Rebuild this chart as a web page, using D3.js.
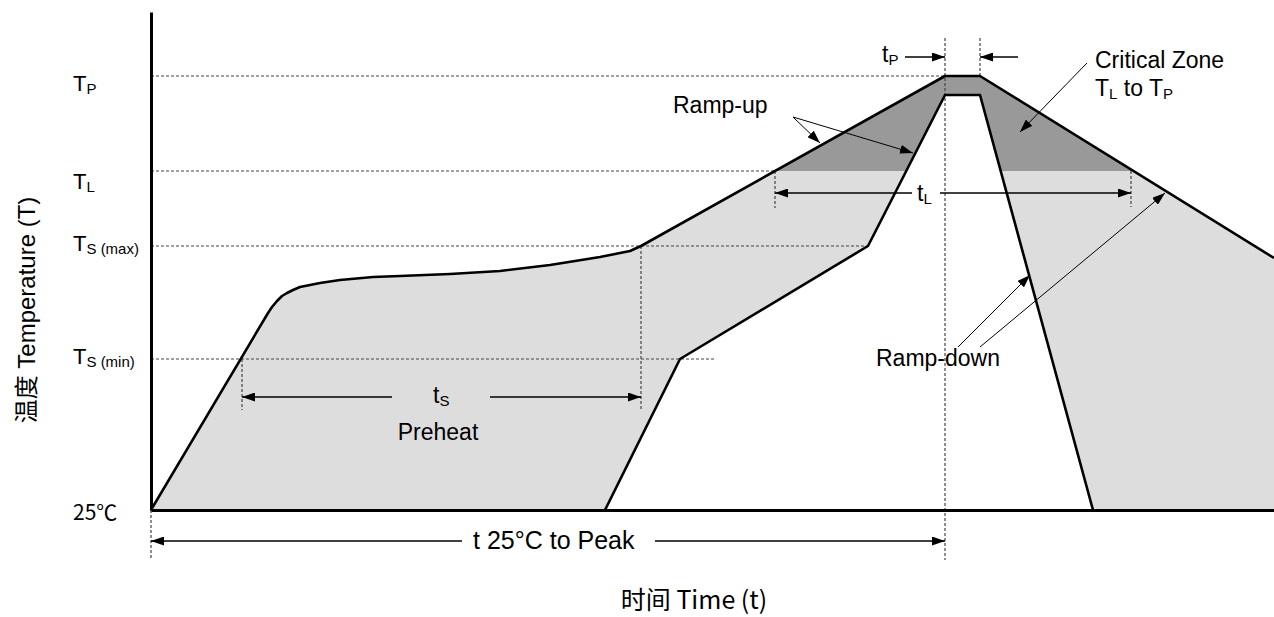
<!DOCTYPE html>
<html><head><meta charset="utf-8">
<script src="https://cdn.jsdelivr.net/npm/d3@7"></script>
<style>
html,body{margin:0;padding:0;background:#fff;}
svg{display:block;}
</style></head>
<body>
<svg id="c" width="1274" height="617"></svg>
<script>
// ---- data (diagram units: time from origin, temperature above 25°C) ----
const levelMain   = ["25℃", "T", "T", "T", "T"];
const levelSub    = ["", "S (min)", "S (max)", "L", "P"];
const levelValues = [0, 151, 264, 339, 434];

// outer (upper) reflow profile
const outerTime = [0, 117, 121, 126, 131, 136, 142, 149, 159, 169, 189, 222, 249, 299, 349, 399, 449, 479, 490, 794, 829, 1123];
const outerTemp = [0, 197, 203, 209, 214, 217, 220, 223, 225, 227, 230, 233, 234, 236, 239, 245, 253, 259, 264, 434, 434, 252];
// inner (lower) reflow profile
const innerTime = [454, 529, 717, 794, 829, 942];
const innerTemp = [0, 151, 264, 415, 415, 0];

const xTitle = "时间 Time (t)";
const yTitle = "温度 Temperature (T)";

// ---- scales ----
const svg = d3.select("#c");
const x = d3.scaleLinear().domain([0, 1123]).range([151, 1274]);
const y = d3.scaleLinear().domain([0, 498]).range([510, 12]);
const lvl = name => levelValues[levelSub.indexOf(name)];

const outer = outerTime.map((t, i) => [t, outerTemp[i]]);
const inner = innerTime.map((t, i) => [t, innerTemp[i]]);
const line = d3.line().x(d => x(d[0])).y(d => y(d[1]));

// markers
const defs = svg.append("defs");
function marker(id, w, h) {
  defs.append("marker").attr("id", id).attr("viewBox", `0 0 ${w} ${h}`)
    .attr("refX", w).attr("refY", h / 2).attr("markerWidth", w).attr("markerHeight", h)
    .attr("markerUnits", "userSpaceOnUse").attr("orient", "auto")
    .append("path").attr("d", `M0,0L${w},${h / 2}L0,${h}Z`).attr("fill", "#000");
}
marker("dim", 13, 9);
marker("ptr", 13, 9);

// filled region
const polygon = outer.concat([[1123, 0]], inner.slice().reverse());
defs.append("clipPath").attr("id", "crit").append("rect")
  .attr("x", 0).attr("y", 0).attr("width", 1274).attr("height", y(lvl("L")));
svg.append("path").attr("d", line(polygon) + "Z").attr("fill", "#dddddd");
svg.append("path").attr("d", line(polygon) + "Z").attr("fill", "#999999").attr("clip-path", "url(#crit)");

// dotted reference lines
const dot = g => g.attr("stroke", "#444").attr("stroke-width", 1.2).attr("stroke-dasharray", "3,2").attr("fill", "none");
const seg = (a, b) => svg.append("path").attr("d", line([a, b])).call(dot);
seg([0, lvl("P")], [794, lvl("P")]);
seg([0, lvl("L")], [624, lvl("L")]);
seg([0, lvl("S (max)")], [717, lvl("S (max)")]);
seg([0, lvl("S (min)")], [565, lvl("S (min)")]);
seg([91, lvl("S (min)")], [91, 100]);
seg([490, lvl("S (max)")], [490, 100]);
seg([624, lvl("L")], [624, 302]);
seg([980, lvl("L")], [980, 303]);
seg([794, 472], [794, -50]);
seg([829, 472], [829, lvl("P")]);
seg([0, 0], [0, -50]);

// profile lines
svg.append("path").attr("d", line(outer)).attr("fill", "none").attr("stroke", "#000").attr("stroke-width", 2.6).attr("stroke-linejoin", "round");
svg.append("path").attr("d", line(inner)).attr("fill", "none").attr("stroke", "#000").attr("stroke-width", 2.6).attr("stroke-linejoin", "round");

// axes
const yAxis = svg.append("g").attr("transform", `translate(${x(0)},0)`)
  .call(d3.axisLeft(y).tickValues(levelValues).tickSize(0).tickSizeOuter(0).tickFormat(""));
yAxis.select(".domain").attr("stroke", "#000").attr("stroke-width", 3);
const tickDy = [9, 4, 4, 17, 14];
yAxis.selectAll(".tick").each(function (d, i) {
  const t = d3.select(this).append("text").attr("x", -78).attr("dy", tickDy[i])
    .attr("fill", "#000").attr("text-anchor", "start").attr("font-size", i === 0 ? 21 : 22)
    .attr("font-family", i === 0 ? "Noto Sans CJK SC" : "Liberation Sans, Arial, sans-serif");
  t.append("tspan").text(levelMain[i]);
  if (levelSub[i]) t.append("tspan").attr("font-size", 15).attr("dy", 3).text(levelSub[i]);
});
const xAxis = svg.append("g").attr("transform", `translate(0,${y(0)})`)
  .call(d3.axisBottom(x).tickValues([]).tickSizeOuter(0));
xAxis.select(".domain").attr("stroke", "#000").attr("stroke-width", 3);

// arrows
const arrow = (a, b, m, w) => svg.append("path").attr("d", line([a, b]))
  .attr("stroke", "#000").attr("stroke-width", w).attr("fill", "none").attr("marker-end", `url(#${m})`);
// dimension arrows
arrow([241, 113], [91, 113], "dim", 1.3);
arrow([339, 113], [490, 113], "dim", 1.3);
arrow([761, 317], [624, 317], "dim", 1.3);
arrow([789, 317], [980, 317], "dim", 1.3);
arrow([754, 453], [794, 453], "dim", 1.3);
arrow([867, 453], [829, 453], "dim", 1.3);
arrow([311, -31], [0, -31], "dim", 1.3);
arrow([504, -31], [794, -31], "dim", 1.3);
// pointer arrows
arrow([642, 393], [669, 367], "ptr", 1);
arrow([642, 393], [762, 357], "ptr", 1);
arrow([936, 447], [869, 378], "ptr", 1);
arrow([807, 163], [879, 235], "ptr", 1);
arrow([829, 163], [1014, 317], "ptr", 1);

// labels
const FONT = "Liberation Sans, Arial, sans-serif";
function label(px, py, parts, anchor, size) {
  const t = svg.append("text").attr("x", x(px)).attr("y", y(py)).attr("font-family", FONT)
    .attr("font-size", size || 23).attr("fill", "#000").attr("text-anchor", anchor || "start");
  parts.forEach(p => {
    const s = t.append("tspan").text(p[0]);
    if (p[1] === "sub") s.attr("font-size", 15).attr("dy", 3);
    if (p[1] === "up") s.attr("dy", -3);
  });
  return t;
}
label(522, 397, [["Ramp-up"]]);
label(944, 442, [["Critical Zone"]]);
label(944, 414, [["T"], ["L", "sub"], [" to T", "up"], ["P", "sub"]]);
label(725, 144, [["Ramp-down"]]);
label(287, 70, [["Preheat"]], "middle");
label(282, 107, [["t"], ["S", "sub"]]);
label(766, 309, [["t"], ["L", "sub"]]);
label(731, 448, [["t"], ["P", "sub"]]);
label(322, -39, [["t 25°C to Peak"]], "start", 25);

// axis titles
svg.append("text").attr("x", 694).attr("y", 609).attr("text-anchor", "middle")
  .attr("font-family", "Noto Sans CJK SC").attr("font-size", 25).attr("fill", "#000").text(xTitle);
svg.append("text").attr("transform", "translate(35,310) rotate(-90)").attr("text-anchor", "middle")
  .attr("font-family", "Liberation Sans, Noto Sans CJK SC").attr("font-size", 24).attr("fill", "#000").text(yTitle);
</script>
</body></html>
